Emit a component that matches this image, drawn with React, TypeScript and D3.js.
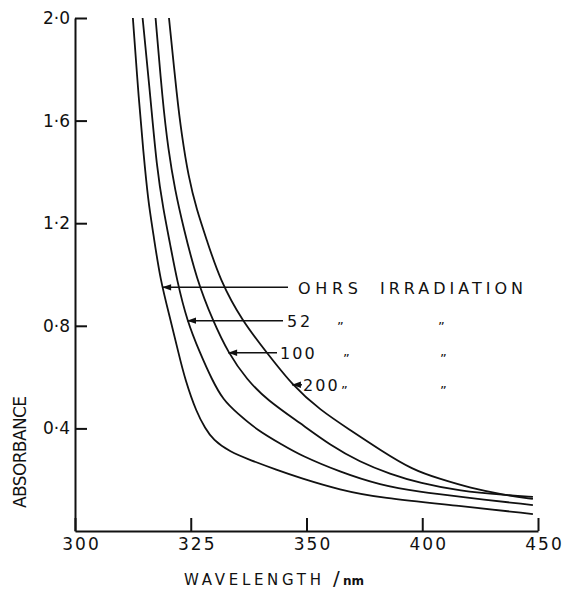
import React, { useEffect, useRef } from 'react'
import * as d3 from 'd3'

const width = 564
const height = 589
const margin = { top: 18, right: 26, bottom: 58, left: 75 }
const font = '"DejaVu Sans", sans-serif'

// x axis ticks are drawn evenly spaced even though the values are not
const xTicks = [300, 325, 350, 400, 450]
const yTicks = [0.4, 0.8, 1.2, 1.6, 2.0]

// [wavelength nm, absorbance]
const hrs0 = [
  [312.5, 2.0], [313.8, 1.676], [314.75, 1.481], [315.8, 1.286], [316.9, 1.162],
  [318.4, 0.979], [320.7, 0.819], [322.35, 0.694], [323.8, 0.589], [326.3, 0.46],
  [328.1, 0.402], [329.8, 0.355], [333.5, 0.308], [337.8, 0.277], [343.6, 0.238],
  [348.6, 0.207], [364.5, 0.16], [381.8, 0.129], [416.3, 0.098], [447.8, 0.066],
]
const hrs52 = [
  [314.6, 2.0], [316.35, 1.68], [317.65, 1.419], [319.1, 1.251], [320.5, 1.123],
  [322.0, 0.979], [324.2, 0.819], [327.0, 0.694], [329.6, 0.589], [332.0, 0.511],
  [335.0, 0.46], [339.3, 0.394], [344.9, 0.335], [348.6, 0.296], [364.5, 0.23],
  [381.8, 0.179], [399.0, 0.152], [416.3, 0.133], [447.8, 0.101],
]
const hrs100 = [
  [317.4, 2.0], [318.9, 1.68], [320.15, 1.485], [321.6, 1.329], [323.4, 1.185],
  [326.3, 0.979], [329.8, 0.819], [333.1, 0.694], [337.15, 0.589], [341.5, 0.511],
  [348.6, 0.421], [360.15, 0.335], [373.1, 0.269], [386.1, 0.222], [399.0, 0.187],
  [416.3, 0.156], [435.75, 0.14], [447.8, 0.133],
]
const hrs200 = [
  [320.3, 2.0], [322.1, 1.68], [323.0, 1.552], [324.5, 1.38], [326.3, 1.251],
  [328.45, 1.135], [331.3, 0.979], [336.1, 0.819], [341.5, 0.694], [346.9, 0.569],
  [355.8, 0.472], [368.8, 0.394], [381.8, 0.316], [395.9, 0.238], [407.7, 0.203],
  [420.6, 0.168], [435.75, 0.14], [447.8, 0.125],
]

const series = [hrs0, hrs52, hrs100, hrs200]
const labelText = ['OHRS', '52', '100', '200']
const labelLevels = [0.95, 0.82, 0.695, 0.57]

// wavelength where a curve falls through a given absorbance
const crossing = (pts: number[][], level: number) => {
  for (let i = 1; i < pts.length; i++) {
    const [x0, y0] = pts[i - 1]
    const [x1, y1] = pts[i]
    if (y0 >= level && y1 <= level) return x0 + ((y0 - level) / (y0 - y1)) * (x1 - x0)
  }
  return pts[0][0]
}

const App = () => {
  const svgRef = useRef<SVGSVGElement>(null)

  useEffect(() => {
    if (!svgRef.current) return
    const svg = d3.select(svgRef.current)
    svg.selectAll('*').remove()

    const step = (width - margin.left - margin.right) / (xTicks.length - 1)
    const xScale = d3.scaleLinear()
      .domain(xTicks)
      .range(xTicks.map((_, i) => margin.left + i * step))
    const yScale = d3.scaleLinear()
      .domain([0, 2])
      .range([height - margin.bottom, margin.top])

    const xAxis = svg.append('g')
      .attr('transform', `translate(0,${height - margin.bottom})`)
      .call(d3.axisBottom(xScale).tickValues(xTicks).tickSize(-13).tickSizeOuter(0).tickPadding(7).tickFormat(d => `${d}`))
    xAxis.selectAll('text')
      .attr('dx', 6)
      .style('font-family', font)
      .style('font-size', '17px')
      .style('letter-spacing', '2px')
      .style('fill', '#111')

    const yAxis = svg.append('g')
      .attr('transform', `translate(${margin.left},0)`)
      .call(d3.axisLeft(yScale).tickValues(yTicks).tickSize(-12).tickSizeOuter(0).tickPadding(5)
        .tickFormat(d => (+d).toFixed(1).replace('.', '·')))
    yAxis.selectAll('text')
      .style('font-family', font)
      .style('font-size', '17px')
      .style('fill', '#111')

    svg.selectAll('.domain, .tick line')
      .style('stroke', '#111')
      .style('stroke-width', 2)

    const line = d3.line<number[]>()
      .x(d => xScale(d[0]))
      .y(d => yScale(d[1]))
      .curve(d3.curveBasis)

    svg.append('g')
      .selectAll('path')
      .data(series)
      .enter()
      .append('path')
      .attr('d', d => line(d))
      .style('fill', 'none')
      .style('stroke', '#111')
      .style('stroke-width', 1.8)

    // arrows and labels
    const tails = [288, 283, 277, null]
    const textX = [298, 287, 280, 303]
    const dittoX = [[], [337, 438], [343, 440], [341, 440]]

    const ann = svg.append('g')
    series.forEach((pts, i) => {
      const y = yScale(labelLevels[i])
      const tip = xScale(crossing(pts, labelLevels[i]))
      const tail = tails[i] ?? tip + 10
      ann.append('line')
        .attr('x1', tip).attr('x2', tail).attr('y1', y).attr('y2', y)
        .style('stroke', '#111').style('stroke-width', 1.5)
      ann.append('path')
        .attr('d', `M${tip},${y}L${tip + 9},${y - 3.2}L${tip + 9},${y + 3.2}Z`)
        .style('fill', '#111')

      const t = ann.append('text')
        .attr('x', textX[i])
        .attr('y', y + 6.5)
        .style('font-family', font)
        .style('font-size', '16px')
        .style('fill', '#111')
        .text(labelText[i])
      if (i === 0) t.attr('textLength', 60).attr('lengthAdjust', 'spacing')
      else t.attr('textLength', labelText[i].length * 11.6).attr('lengthAdjust', 'spacing')

      if (i === 0) {
        ann.append('text')
          .attr('x', 380)
          .attr('y', y + 6.5)
          .attr('textLength', 143)
          .attr('lengthAdjust', 'spacing')
          .style('font-family', font)
          .style('font-size', '16px')
          .style('fill', '#111')
          .text('IRRADIATION')
      }
      dittoX[i].forEach(dx => {
        ann.append('text')
          .attr('x', dx)
          .attr('y', y + 3)
          .style('font-family', font)
          .style('font-size', '13px')
          .style('fill', '#111')
          .text('„')
      })
    })

    svg.append('text')
      .attr('transform', 'translate(20,452) rotate(-90)')
      .attr('text-anchor', 'middle')
      .attr('dominant-baseline', 'central')
      .attr('textLength', 112)
      .attr('lengthAdjust', 'spacing')
      .style('font-family', font)
      .style('font-size', '17px')
      .style('fill', '#111')
      .text('ABSORBANCE')

    svg.append('text')
      .attr('x', 184)
      .attr('y', 585)
      .attr('textLength', 137)
      .attr('lengthAdjust', 'spacing')
      .style('font-family', font)
      .style('font-size', '15px')
      .style('fill', '#111')
      .text('WAVELENGTH')
    svg.append('text')
      .attr('x', 333)
      .attr('y', 585)
      .style('font-family', font)
      .style('font-size', '20px')
      .style('fill', '#111')
      .text('/')
    svg.append('text')
      .attr('x', 343)
      .attr('y', 585)
      .style('font-family', font)
      .style('font-size', '12px')
      .style('font-weight', 'bold')
      .style('fill', '#111')
      .text('nm')
  }, [])

  return (
    <svg
      ref={svgRef}
      width={width}
      height={height}
      style={{ position: 'absolute', left: 0, top: 0, background: '#fff' }}
    />
  )
}

export default App
